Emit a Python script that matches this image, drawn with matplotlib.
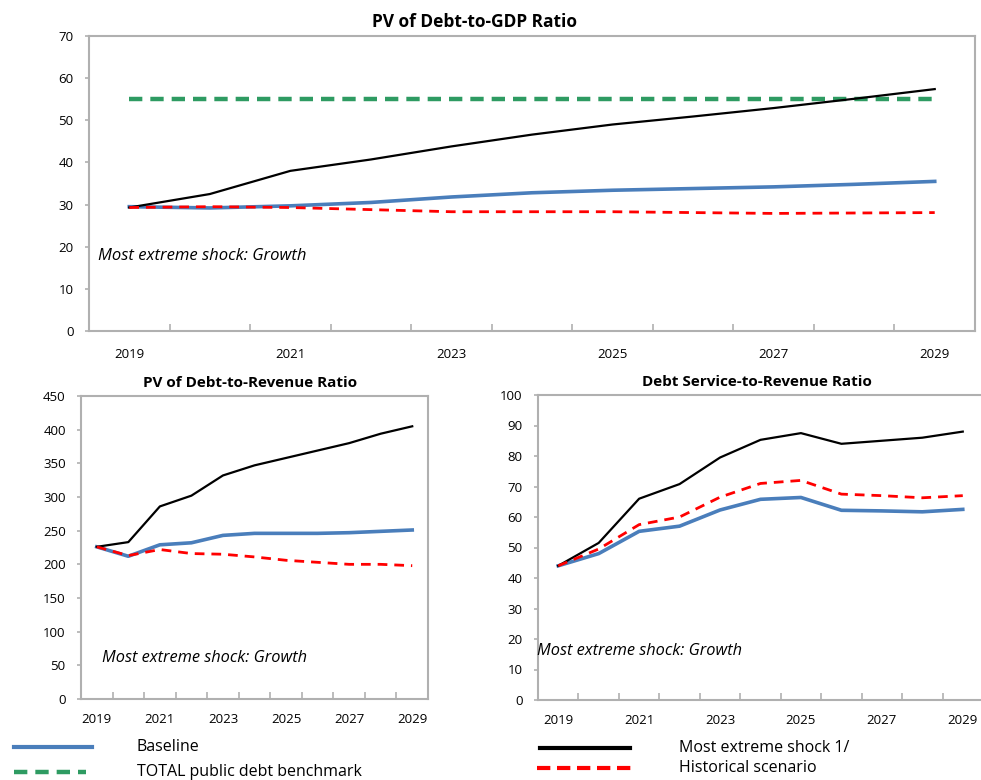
import matplotlib
matplotlib.use("Agg")
import matplotlib.pyplot as plt
from matplotlib.lines import Line2D
import numpy as np

plt.rcParams["font.family"] = ["Open Sans", "DejaVu Sans"]

# Dados
YEARS = list(range(2019, 2030))
TICK_YEARS = ["2019", "2021", "2023", "2025", "2027", "2029"]

GDP_BASELINE = [29.5, 29.2, 29.7, 30.5, 31.8, 32.8, 33.4, 33.8, 34.2, 34.8, 35.5]
GDP_SHOCK = [29.3, 32.5, 38.0, 40.7, 43.8, 46.6, 49.0, 50.9, 52.9, 55.1, 57.4]
GDP_HIST = [29.3, 29.5, 29.3, 28.8, 28.3, 28.3, 28.3, 28.1, 27.9, 28.0, 28.1]
GDP_BENCH = [55] * 11

REV_BASELINE = [226, 212, 229, 232, 243, 246, 246, 246, 247, 249, 251]
REV_SHOCK = [226, 233, 286, 302, 332, 347, 358, 369, 380, 394, 405]
REV_HIST = [226, 213, 222, 216, 215, 211, 206, 203, 200, 200, 198]

DS_BASELINE = [44, 48, 55.3, 57, 62.3, 65.8, 66.4, 62.2, 62.0, 61.7, 62.5]
DS_SHOCK = [44, 51.5, 66, 70.8, 79.5, 85.3, 87.5, 84, 85, 86, 88]
DS_HIST = [44, 49.5, 57.5, 60, 66.5, 71, 72, 67.5, 67, 66.3, 67]

BLUE = "#4A7EBB"
GREEN = "#2E9B62"
RED = "#FF0000"
SPINE = "#B0B0B0"

W, H = 981, 780


def px_axes(fig, left, right, top, bottom):
    return fig.add_axes([left / W, 1 - bottom / H, (right - left) / W, (bottom - top) / H])


def style_axes(ax, ymax, ystep, fs=9.5, pad=12):
    n = len(YEARS)
    x = np.arange(n)
    ax.set_xlim(-0.5, n - 0.5)
    ax.set_ylim(0, ymax)
    ax.set_yticks(np.arange(0, ymax + 1, ystep))
    ax.set_xticks(x[::2])
    ax.set_xticklabels(TICK_YEARS)
    ax.set_xticks(np.arange(0.5, n - 1, 1), minor=True)
    ax.tick_params(axis="x", which="major", length=0, pad=pad, labelsize=fs)
    ax.tick_params(axis="x", which="minor", length=5, direction="in", color=SPINE, width=1.2)
    ax.tick_params(axis="y", length=3, color=SPINE, width=1.2, labelsize=fs, pad=8)
    for s in ax.spines.values():
        s.set_color(SPINE)
        s.set_linewidth(1.5)


def draw(ax, base, shock, hist, bench=None):
    x = np.arange(len(YEARS))
    if bench is not None:
        ax.plot(x, bench, color=GREEN, lw=3.2, ls=(0, (3, 1.8)))
    ax.plot(x, base, color=BLUE, lw=2.6)
    ax.plot(x, shock, color="black", lw=1.6)
    ax.plot(x, hist, color=RED, lw=2.0, ls=(0, (3.5, 2.5)))


fig = plt.figure(figsize=(W / 100, H / 100), dpi=100)

# Painel superior
ax1 = px_axes(fig, 89, 975, 36, 331)
draw(ax1, GDP_BASELINE, GDP_SHOCK, GDP_HIST, GDP_BENCH)
style_axes(ax1, 70, 10, fs=9.5, pad=12)
fig.text(474 / W, 1 - 22 / H, "PV of Debt-to-GDP Ratio", fontsize=12.5,
         fontweight="bold", ha="center", va="center")
ax1.text(-0.39, 17.8, "Most extreme shock: Growth", style="italic", fontsize=12, va="center")

# Painel inferior esquerdo
ax2 = px_axes(fig, 81, 428, 396, 699)
draw(ax2, REV_BASELINE, REV_SHOCK, REV_HIST)
style_axes(ax2, 450, 50, fs=9.5, pad=10)
fig.text(250 / W, 1 - 383 / H, "PV of Debt-to-Revenue Ratio", fontsize=11,
         fontweight="bold", ha="center", va="center")
ax2.text(0.17, 61, "Most extreme shock: Growth", style="italic", fontsize=11.8, va="center")

# Painel inferior direito
ax3 = px_axes(fig, 538, 983, 395, 700)
draw(ax3, DS_BASELINE, DS_SHOCK, DS_HIST)
style_axes(ax3, 100, 10, fs=9.5, pad=10)
fig.text(757 / W, 1 - 382 / H, "Debt Service-to-Revenue Ratio", fontsize=11,
         fontweight="bold", ha="center", va="center")
ax3.text(-0.52, 16.1, "Most extreme shock: Growth", style="italic", fontsize=11.8, va="center")

# Legenda manual
def legend_entry(x0, x1, y, label, tx, **kw):
    fig.add_artist(Line2D([x0 / W, x1 / W], [1 - y / H, 1 - y / H], transform=fig.transFigure, **kw))
    fig.text(tx / W, 1 - y / H, label, fontsize=11.5, va="center")

legend_entry(14, 92, 747, "Baseline", 137, color=BLUE, lw=3)
legend_entry(14, 86, 772, "TOTAL public debt benchmark", 137, color=GREEN, lw=3.2, ls=(0, (3, 1.8)))
legend_entry(540, 630, 748, "Most extreme shock 1/", 679, color="black", lw=3)
legend_entry(537, 632, 768, "Historical scenario", 679, color=RED, lw=3, ls=(0, (3.2, 1.6)))

fig.savefig("out.png", dpi=100)
